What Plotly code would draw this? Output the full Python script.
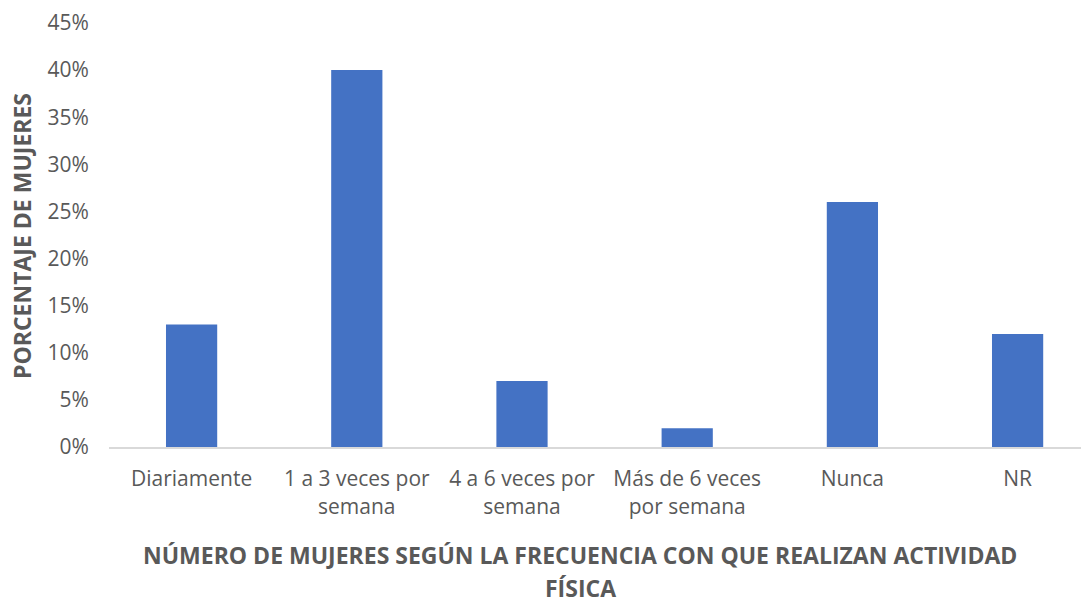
import plotly.graph_objects as go

categories = ["Diariamente", "1 a 3 veces por<br>semana", "4 a 6 veces por<br>semana",
              "Más de 6 veces<br>por semana", "Nunca", "NR"]
values = [0.13, 0.40, 0.07, 0.02, 0.26, 0.12]
y_ticks = [0, 0.05, 0.10, 0.15, 0.20, 0.25, 0.30, 0.35, 0.40, 0.45]
y_ticktext = ["0%", "5%", "10%", "15%", "20%", "25%", "30%", "35%", "40%", "45%"]

font_family = "Open Sans, Liberation Sans, sans-serif"
grey = "#595959"

# page has an 8px body margin; figure is sized to fill the remaining window
W, H = 1081, 593
L, T, B = 101, 15, 154
PW, PH = W - L, H - T - B  # plot area 980 x 424
CAT_PX = 165.2  # pixel width of one category slot (plot area runs past the right edge)

fig = go.Figure(go.Bar(x=categories, y=values, marker=dict(color="#4472C4", line=dict(width=0)),
                       width=0.31))

fig.update_layout(
    width=W, height=H,
    margin=dict(l=L, r=0, t=T, b=B),
    plot_bgcolor="white", paper_bgcolor="white",
    showlegend=False,
    font=dict(family=font_family, color=grey, size=21),
)
fig.update_xaxes(
    automargin=False,
    range=[-0.5, -0.5 + PW / CAT_PX],
    showline=True, linecolor="#D9D9D9", linewidth=2,
    ticks="outside", ticklen=12, tickcolor="rgba(0,0,0,0)",
    tickfont=dict(size=21, color=grey), showgrid=False,
)
fig.update_yaxes(
    automargin=False,
    range=[0, 0.45], tickvals=y_ticks, ticktext=y_ticktext,
    showgrid=False, zeroline=False, showline=False,
    ticks="outside", ticklen=15, tickcolor="rgba(0,0,0,0)",
    tickfont=dict(size=21, color=grey),
)
fig.add_annotation(
    text="<b>PORCENTAJE DE MUJERES</b>",
    xref="paper", yref="paper", x=(14 - L) / PW, y=(T + PH - 228) / PH,
    xanchor="center", yanchor="middle", textangle=-90, borderpad=0,
    showarrow=False, font=dict(size=23, color=grey, family=font_family),
)
fig.add_annotation(
    text="<b>NÚMERO DE MUJERES SEGÚN LA FRECUENCIA CON QUE REALIZAN ACTIVIDAD</b>",
    xref="paper", yref="paper", x=(572 - L) / PW, y=(T + PH - 547) / PH,
    yanchor="middle", xanchor="center", borderpad=0,
    showarrow=False, font=dict(size=23, color=grey, family=font_family),
)
fig.add_annotation(
    text="<b>FÍSICA</b>",
    xref="paper", yref="paper", x=(572 - L) / PW, y=(T + PH - 580) / PH,
    yanchor="middle", xanchor="center", borderpad=0,
    showarrow=False, font=dict(size=23, color=grey, family=font_family),
)
fig.write_html("out.html")
